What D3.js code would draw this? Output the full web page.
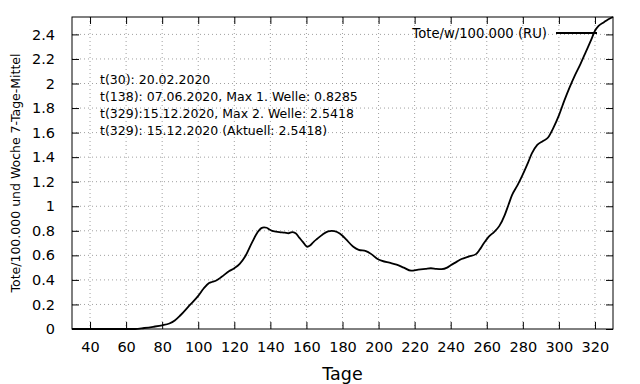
<!DOCTYPE html>
<html>
<head>
<meta charset="utf-8">
<script src="https://cdn.jsdelivr.net/npm/d3@7"></script>
<style>
  body { margin: 0; background: #fff; }
  svg { display: block; font-family: "DejaVu Sans", sans-serif; }
</style>
</head>
<body>
<div id="chart"></div>
<script>
// Tage (t) und Tote je Woche / 100.000, 7-Tage-Mittel
const tage = [30, 40, 50, 60, 65, 70, 75, 80, 84, 87, 90, 95, 100, 103, 106, 108, 110, 113, 117, 120,
  123, 126, 130, 133, 135, 136.5, 138, 139.5, 141, 145, 148, 150, 152, 154, 156, 158, 160.5, 162, 164, 166, 169,
  172, 174, 177, 180, 182, 186, 189, 193, 196, 199, 202, 206, 210, 214, 218, 222, 226, 229, 232, 235,
  238, 240, 243, 246, 250, 254, 256, 258, 261, 264, 267, 270, 272, 274, 277, 280, 283, 285, 288, 291,
  294, 297, 300, 303, 306, 309, 312, 315, 318, 320, 322, 325, 327, 330];
const werte = [0, 0, 0, 0, 0, 0.008, 0.018, 0.03, 0.045, 0.07, 0.11, 0.19, 0.27, 0.33, 0.375, 0.385, 0.395, 0.425, 0.47, 0.495,
  0.53, 0.59, 0.71, 0.79, 0.822, 0.8285, 0.825, 0.81, 0.8, 0.79, 0.785, 0.78, 0.79, 0.78, 0.745, 0.71, 0.67, 0.68, 0.71, 0.735, 0.77,
  0.795, 0.8, 0.79, 0.76, 0.73, 0.67, 0.645, 0.635, 0.61, 0.575, 0.555, 0.54, 0.525, 0.5, 0.475, 0.483, 0.49, 0.495, 0.49, 0.488,
  0.5, 0.52, 0.545, 0.57, 0.59, 0.61, 0.645, 0.69, 0.75, 0.79, 0.84, 0.93, 1.01, 1.09, 1.17, 1.26, 1.36, 1.43, 1.5, 1.53,
  1.56, 1.64, 1.74, 1.86, 1.97, 2.07, 2.16, 2.26, 2.36, 2.43, 2.47, 2.5, 2.52, 2.5418];
const xTicks = [40, 60, 80, 100, 120, 140, 160, 180, 200, 220, 240, 260, 280, 300, 320];
const yTicks = [0, 0.2, 0.4, 0.6, 0.8, 1, 1.2, 1.4, 1.6, 1.8, 2, 2.2, 2.4];
const notizen = [
  "t(30): 20.02.2020",
  "t(138): 07.06.2020, Max 1. Welle: 0.8285",
  "t(329):15.12.2020, Max 2. Welle: 2.5418",
  "t(329): 15.12.2020 (Aktuell: 2.5418)"
];
const legende = "Tote/w/100.000 (RU)";

const width = 640, height = 384;
const margin = { top: 17, right: 27, bottom: 55, left: 72 };
const iw = width - margin.left - margin.right;
const ih = height - margin.top - margin.bottom;

const svg = d3.select("#chart").append("svg")
  .attr("width", width)
  .attr("height", height);

const g = svg.append("g").attr("transform", `translate(${margin.left},${margin.top})`);

const data = tage.map((t, i) => ({ t, v: werte[i] }));

const x = d3.scaleLinear().domain(d3.extent(tage)).range([0, iw]);
const y = d3.scaleLinear().domain([0, d3.max(werte)]).range([ih, 0]);

// grid
g.append("g").selectAll("line")
  .data(xTicks)
  .enter().append("line")
  .attr("x1", d => x(d)).attr("x2", d => x(d))
  .attr("y1", 0).attr("y2", ih)
  .attr("stroke", "#a0a0a0")
  .attr("stroke-dasharray", "1,3");
g.append("g").selectAll("line")
  .data(yTicks.filter(d => d > 0))
  .enter().append("line")
  .attr("x1", 0).attr("x2", iw)
  .attr("y1", d => y(d)).attr("y2", d => y(d))
  .attr("stroke", "#a0a0a0")
  .attr("stroke-dasharray", "1,3");

// axes (ticks inside, mirrored)
const fmt = d => String(d);
const xAxis = g.append("g")
  .attr("transform", `translate(0,${ih})`)
  .call(d3.axisBottom(x).tickValues(xTicks).tickSize(-7).tickPadding(13).tickFormat(fmt));
const xTop = g.append("g")
  .call(d3.axisTop(x).tickValues(xTicks).tickSize(-7).tickFormat(""));
const yAxis = g.append("g")
  .call(d3.axisLeft(y).tickValues(yTicks).tickSize(-7).tickPadding(17).tickFormat(fmt));
const yRight = g.append("g")
  .attr("transform", `translate(${iw},0)`)
  .call(d3.axisRight(y).tickValues(yTicks).tickSize(-7).tickFormat(""));

[xAxis, xTop, yAxis, yRight].forEach(a => {
  a.select(".domain").remove();
  a.selectAll("line").attr("stroke", "#000");
  a.selectAll("text").attr("fill", "#000").attr("font-size", 14.5).attr("font-family", "DejaVu Sans");
});

// border
g.append("rect")
  .attr("width", iw).attr("height", ih)
  .attr("fill", "none").attr("stroke", "#000").attr("stroke-width", 1);

// curve
const line = d3.line().x(d => x(d.t)).y(d => y(d.v)).curve(d3.curveMonotoneX);
g.append("path")
  .datum(data)
  .attr("fill", "none")
  .attr("stroke", "#000")
  .attr("stroke-width", 1.8)
  .attr("stroke-linejoin", "round")
  .attr("d", line);

// annotations
g.append("g").selectAll("text")
  .data(notizen)
  .enter().append("text")
  .attr("x", 100 - margin.left)
  .attr("y", (d, i) => 84 - margin.top + i * 17)
  .attr("font-size", 12.5)
  .attr("fill", "#000")
  .text(d => d);

// legend
g.append("text")
  .attr("x", 547 - margin.left)
  .attr("y", 38 - margin.top)
  .attr("text-anchor", "end")
  .attr("font-size", 13.2)
  .attr("fill", "#000")
  .text(legende);
g.append("line")
  .attr("x1", 556 - margin.left).attr("x2", 597 - margin.left)
  .attr("y1", 33 - margin.top).attr("y2", 33 - margin.top)
  .attr("stroke", "#000").attr("stroke-width", 2);

// axis titles
svg.append("text")
  .attr("x", margin.left + iw / 2)
  .attr("y", 380)
  .attr("text-anchor", "middle")
  .attr("font-size", 17.5)
  .attr("fill", "#000")
  .text("Tage");
svg.append("text")
  .attr("transform", `translate(20,${margin.top + ih / 2}) rotate(-90)`)
  .attr("text-anchor", "middle")
  .attr("font-size", 12.5)
  .attr("fill", "#000")
  .text("Tote/100.000 und Woche 7-Tage-Mittel");
</script>
</body>
</html>
